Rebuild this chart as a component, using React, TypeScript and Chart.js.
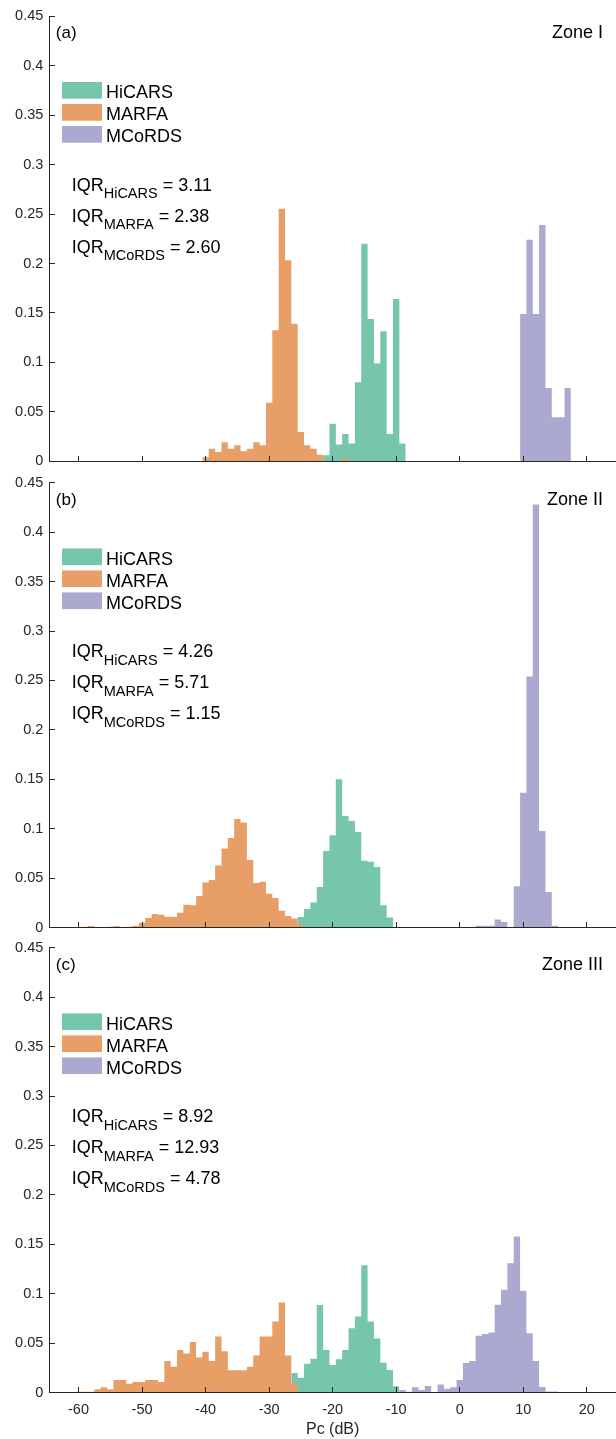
import React, { useEffect, useRef } from "react";
import { Chart, registerables } from "chart.js";
Chart.register(...registerables);

const FONT = '"Liberation Sans", Arial, Helvetica, sans-serif';
const INK = "#262626";

const seriesNames = ["HiCARS", "MARFA", "MCoRDS"];
const seriesColors = ["rgb(118,197,173)", "rgb(232,159,103)", "rgb(172,169,209)"];
const panelLabels = ["(a)", "(b)", "(c)"];
const zoneLabels = ["Zone I", "Zone II", "Zone III"];
const iqrA = ["3.11", "2.38", "2.60"];
const iqrB = ["4.26", "5.71", "1.15"];
const iqrC = ["8.92", "12.93", "4.78"];
const xTitle = "Pc (dB)";

const xMin = -64.6;
const xMax = 24.6;
const yMin = 0;
const yMax = 0.45;
const xTickStep = 10;
const yTickStep = 0.05;

// Histogram values, 1 dB bins; "First" = centre of first bin (dB)
const hicarsAFirst = -21;
const hicarsA = [0.006, 0.038, 0.0169, 0.0276, 0.0179, 0.0799, 0.22, 0.144, 0.0988, 0.1315, 0.0276, 0.164, 0.0179];
const marfaAFirst = -40;
const marfaA = [0.004, 0.0128, 0.0094, 0.0192, 0.0128, 0.0162, 0.0101, 0.0128, 0.0192, 0.0162, 0.0593, 0.1325, 0.2555, 0.2033, 0.139, 0.0297, 0.0162, 0.0128, 0.0067, 0, 0, 0, 0.003];
const mcordsAFirst = 10;
const mcordsA = [0.149, 0.224, 0.149, 0.239, 0.074, 0.0445, 0.0445, 0.074];

const hicarsBFirst = -25;
const hicarsB = [0.0108, 0.0189, 0.0256, 0.0411, 0.0775, 0.0934, 0.15, 0.113, 0.108, 0.0968, 0.0678, 0.0667, 0.0614, 0.0226, 0.0104];
const marfaBFirst = -59;
const marfaB = [0.001, 0.0017, 0, 0.0007, 0.001, 0.0017, 0, 0.001, 0.002, 0.005, 0.0098, 0.0138, 0.0131, 0.0111, 0.0111, 0.0152, 0.0233, 0.0226, 0.032, 0.0458, 0.0482, 0.063, 0.0802, 0.0907, 0.1099, 0.1065, 0.0684, 0.0452, 0.0465, 0.0344, 0.03, 0.0172, 0.0118, 0.0094, 0.0024];
const mcordsBFirst = 3;
const mcordsB = [0.002, 0.002, 0.002, 0.0084, 0.0057, 0, 0.042, 0.1365, 0.254, 0.428, 0.0978, 0.036, 0.002];

const hicarsCFirst = -26;
const hicarsC = [0.0199, 0.0152, 0.0293, 0.0343, 0.0886, 0.0431, 0.028, 0.0337, 0.0431, 0.0653, 0.077, 0.129, 0.072, 0.0549, 0.0303, 0.0229, 0.0064];
const marfaCFirst = -60;
const marfaC = [0.001, 0.001, 0.001, 0.0034, 0.0054, 0.0034, 0.0128, 0.0128, 0.0091, 0.0108, 0.0108, 0.0128, 0.0128, 0.0108, 0.032, 0.0263, 0.0431, 0.0397, 0.0512, 0.0357, 0.0414, 0.032, 0.0569, 0.0418, 0.0226, 0.0226, 0.0226, 0.0263, 0.0377, 0.0569, 0.0569, 0.072, 0.0912, 0.0377, 0.009];
const mcordsCFirst = -44;
const mcordsC = [0.001, 0, 0, 0, 0, 0, 0.0015, 0, 0, 0, 0, 0, 0, 0, 0, 0, 0.001, 0, 0, 0, 0, 0, 0.001, 0, 0, 0.001, 0, 0, 0.001, 0, 0, 0.001, 0, 0, 0.001,
  0.0027, 0.001, 0.0054, 0.0027, 0.0067, 0.0007, 0.0084, 0.004, 0.0054, 0.0128, 0.03, 0.032, 0.0576, 0.0593, 0.061, 0.0889, 0.104, 0.131, 0.158, 0.103, 0.06, 0.032, 0.0057, 0.0013, 0.0013];

const panels = [
  { first: [hicarsAFirst, marfaAFirst, mcordsAFirst], vals: [hicarsA, marfaA, mcordsA], iqr: iqrA },
  { first: [hicarsBFirst, marfaBFirst, mcordsBFirst], vals: [hicarsB, marfaB, mcordsB], iqr: iqrB },
  { first: [hicarsCFirst, marfaCFirst, mcordsCFirst], vals: [hicarsC, marfaC, mcordsC], iqr: iqrC },
];

// layout (px)
const W = 616;
const layouts = [
  { top: 0, height: 476, padTop: 16.3, xh: 12.7, showX: false },
  { top: 468, height: 476, padTop: 12.7, xh: 16.3, showX: false },
  { top: 933, height: 506, padTop: 12.7, xh: 46.3, showX: true },
];

function steps(first: number, vals: number[]) {
  const pts = vals.map((v, i) => ({ x: first + i - 0.5, y: v }));
  pts.push({ x: first + vals.length - 0.5, y: 0 });
  return pts;
}

function align(pixel: number) {
  return Math.round(pixel - 0.5) + 0.5;
}

function makeDecor(p: number) {
  return {
    id: "decor" + p,
    afterDatasetsDraw(chart: any) {
      const { ctx, chartArea: a } = chart;
      const xs = chart.scales.x;
      const ys = chart.scales.y;
      const yb = align(a.bottom);
      const xl = align(a.left);
      ctx.save();
      ctx.strokeStyle = INK;
      ctx.lineWidth = 1;
      ctx.beginPath();
      ctx.moveTo(xl - 0.5, yb);
      ctx.lineTo(a.right, yb);
      ctx.moveTo(xl, yb + 0.5);
      ctx.lineTo(xl, a.top);
      xs.ticks.forEach((t: any) => {
        const px = align(xs.getPixelForValue(t.value));
        ctx.moveTo(px, yb);
        ctx.lineTo(px, yb - 5.5);
      });
      ys.ticks.forEach((t: any) => {
        const py = align(ys.getPixelForValue(t.value));
        ctx.moveTo(xl, py);
        ctx.lineTo(xl + 5.5, py);
      });
      ctx.stroke();
      ctx.restore();
    },
    afterDraw(chart: any) {
      const { ctx, chartArea: a } = chart;
      const big = `18px ${FONT}`;
      const small = `14.5px ${FONT}`;
      ctx.save();
      ctx.fillStyle = "#000";
      ctx.textBaseline = "alphabetic";
      ctx.textAlign = "left";
      ctx.font = `17px ${FONT}`;
      ctx.fillText(panelLabels[p], a.left + 6.5, a.top + 22);
      ctx.textAlign = "right";
      ctx.font = big;
      ctx.fillText(zoneLabels[p], a.right - 13, a.top + 22);
      ctx.textAlign = "left";
      for (let i = 0; i < 3; i++) {
        const ty = a.top + 65.7 + 22 * i;
        ctx.fillStyle = seriesColors[i];
        ctx.fillRect(62, ty, 40, 16.7);
        ctx.fillStyle = "#000";
        ctx.font = big;
        ctx.fillText(seriesNames[i], 106, ty + 16.4);
      }
      for (let i = 0; i < 3; i++) {
        const by = a.top + 174.4 + 31 * i;
        let x = 71.7;
        ctx.font = big;
        ctx.fillText("IQR", x, by);
        x += ctx.measureText("IQR").width;
        ctx.font = small;
        ctx.fillText(seriesNames[i], x, by + 7.7);
        x += ctx.measureText(seriesNames[i]).width;
        ctx.font = big;
        ctx.fillText(" = " + panels[p].iqr[i], x, by);
      }
      ctx.restore();
    },
  };
}

function Panel({ p }: { p: number }) {
  const ref = useRef<HTMLCanvasElement>(null);
  useEffect(() => {
    const L = layouts[p];
    const P = panels[p];
    const order = [3, 2, 1];
    const chart = new Chart(ref.current as HTMLCanvasElement, {
      type: "line",
      data: {
        datasets: [0, 1, 2].map((i) => ({
          label: seriesNames[i],
          data: steps(P.first[i], P.vals[i]),
          backgroundColor: seriesColors[i],
          borderColor: "rgba(0,0,0,0)",
          borderWidth: 0,
          fill: "origin",
          stepped: true,
          pointRadius: 0,
          pointHoverRadius: 0,
          order: order[i],
        })),
      },
      options: {
        animation: false,
        responsive: false,
        maintainAspectRatio: false,
        devicePixelRatio: 1,
        events: [],
        layout: { padding: { top: L.padTop, bottom: 0, left: 0, right: 0 } },
        plugins: {
          legend: { display: false },
          tooltip: { enabled: false },
          title: { display: false },
        },
        scales: {
          x: {
            type: "linear",
            min: xMin,
            max: xMax,
            grid: { display: false, drawTicks: false },
            border: { display: true, color: INK, width: 1 },
            ticks: {
              display: L.showX,
              stepSize: xTickStep,
              includeBounds: false,
              padding: 9,
              maxRotation: 0,
              autoSkip: false,
              color: INK,
              font: { family: FONT, size: 14.5 },
              callback: (v: any) => String(Math.round(Number(v))),
            },
            title: {
              display: L.showX,
              text: xTitle,
              color: INK,
              font: { family: FONT, size: 16 },
              padding: { top: 0, bottom: 0 },
            },
            afterFit: (s: any) => {
              s.height = L.xh;
            },
          },
          y: {
            type: "linear",
            min: yMin,
            max: yMax,
            grid: { display: false, drawTicks: false },
            border: { display: true, color: INK, width: 1 },
            ticks: {
              stepSize: yTickStep,
              padding: 6,
              color: INK,
              font: { family: FONT, size: 14.5 },
              callback: (v: any) => String(Number(Number(v).toFixed(2))),
            },
            afterFit: (s: any) => {
              s.width = 49.3;
            },
          },
        },
      },
      plugins: [makeDecor(p)],
    } as any);
    return () => chart.destroy();
  }, [p]);
  const L = layouts[p];
  return (
    <canvas
      ref={ref}
      width={W}
      height={L.height}
      style={{ position: "absolute", left: 0, top: L.top, width: W, height: L.height }}
    />
  );
}

export default function App() {
  return (
    <div style={{ position: "absolute", left: 0, top: 0, width: W, height: 1439, overflow: "hidden", background: "#fff" }}>
      <Panel p={0} />
      <Panel p={1} />
      <Panel p={2} />
    </div>
  );
}
